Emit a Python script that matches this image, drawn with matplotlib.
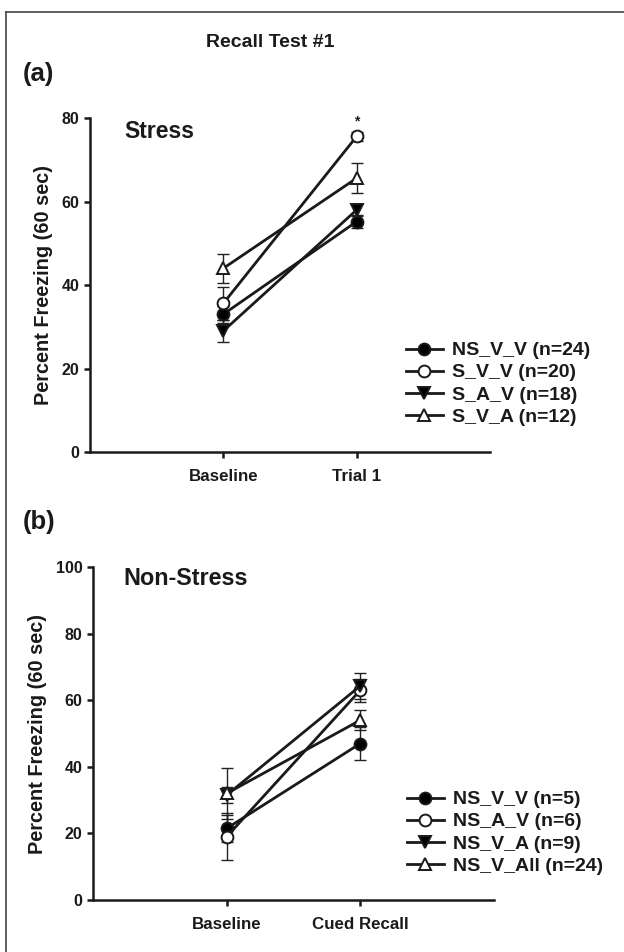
import matplotlib
matplotlib.use("Agg")
import matplotlib.pyplot as plt
from matplotlib.lines import Line2D

plt.rcParams['font.family'] = ['Liberation Sans', 'DejaVu Sans']
plt.rcParams['font.weight'] = 'bold'

# ---- data panel (a) ----
cats_a = ["Baseline", "Trial 1"]
labels_a = ["NS_V_V (n=24)", "S_V_V (n=20)", "S_A_V (n=18)", "S_V_A (n=12)"]
nsvv_a = [33.0, 55.2]
nsvv_a_err = [2.0, 1.5]
svv_a = [35.6, 75.6]
svv_a_err = [4.0, 1.0]
sav_a = [29.0, 58.0]
sav_a_err = [2.6, 1.5]
sva_a = [44.0, 65.6]
sva_a_err = [3.5, 3.6]
yticks_a = [0, 20, 40, 60, 80]

# ---- data panel (b) ----
cats_b = ["Baseline", "Cued Recall"]
labels_b = ["NS_V_V (n=5)", "NS_A_V (n=6)", "NS_V_A (n=9)", "NS_V_All (n=24)"]
nsvv_b = [21.5, 47.0]
nsvv_b_err = [4.0, 5.0]
nsav_b = [19.0, 63.0]
nsav_b_err = [7.0, 3.5]
nsva_b = [31.5, 64.3]
nsva_b_err = [2.5, 4.0]
nsvall_b = [32.0, 54.0]
nsvall_b_err = [7.6, 3.0]
yticks_b = [0, 20, 40, 60, 80, 100]

styles = [
    dict(marker='o', mfc='black'),
    dict(marker='o', mfc='white'),
    dict(marker='v', mfc='black'),
    dict(marker='^', mfc='white'),
]
INK = '#1a1a1a'

fig = plt.figure(figsize=(6.24, 9.52), dpi=100)

def panel(rect, cats, series, errs, labels, yticks, leg_anchor):
    ax = fig.add_axes(rect)
    xs = [1, 2]
    handles = []
    for vals, e, st, lab in zip(series, errs, styles, labels):
        ax.errorbar(xs, vals, yerr=e, fmt='none', ecolor='#222222', elinewidth=1.0,
                    capsize=4, capthick=1.0, zorder=2)
        h, = ax.plot(xs, vals, color=INK, lw=2.0, marker=st['marker'],
                     mfc=st['mfc'], mec=INK, mew=1.4, ms=8.5, zorder=3, label=lab)
        handles.append(h)
    ax.set_xlim(0, 3)
    ax.set_ylim(0, yticks[-1])
    ax.set_xticks(xs)
    ax.set_xticklabels(cats, fontsize=12.2, fontweight='bold', color=INK)
    ax.set_yticks(yticks)
    ax.set_yticklabels([str(t) for t in yticks], fontsize=11.5, fontweight='bold', color=INK)
    for s in ['top', 'right']:
        ax.spines[s].set_visible(False)
    for s in ['left', 'bottom']:
        ax.spines[s].set_linewidth(1.8)
        ax.spines[s].set_color(INK)
    ax.tick_params(axis='both', width=1.8, length=4, color=INK)
    ax.tick_params(axis='x', pad=8)
    ax.set_ylabel("Percent Freezing (60 sec)", fontsize=14.3, fontweight='bold', color=INK, labelpad=6)
    leg = ax.legend(handles=handles, loc='upper left', bbox_to_anchor=leg_anchor,
                    frameon=False, fontsize=14, handlelength=1.9, handletextpad=0.45,
                    labelspacing=0.23, borderaxespad=0, borderpad=0)
    for t in leg.get_texts():
        t.set_fontweight('bold')
        t.set_color(INK)
    return ax

ax_a = panel([0.1442, 0.5252, 0.641, 0.3508], cats_a,
             [nsvv_a, svv_a, sav_a, sva_a], [nsvv_a_err, svv_a_err, sav_a_err, sva_a_err],
             labels_a, yticks_a, (0.79, 0.33))
ax_a.text(0.085, 0.96, "Stress", transform=ax_a.transAxes, fontsize=16.5, fontweight='bold',
          va='center', ha='left', color=INK)
ax_a.text(2, svv_a[1] + svv_a_err[1] + 1.0, "*", ha='center', va='bottom', fontsize=10, color=INK)

ax_b = panel([0.149, 0.0546, 0.6426, 0.3498], cats_b,
             [nsvv_b, nsav_b, nsva_b, nsvall_b], [nsvv_b_err, nsav_b_err, nsva_b_err, nsvall_b_err],
             labels_b, yticks_b, (0.783, 0.328))
ax_b.text(0.077, 0.965, "Non-Stress", transform=ax_b.transAxes, fontsize=16.8, fontweight='bold',
          va='center', ha='left', color=INK)

fig.text(0.433, 0.955, "Recall Test #1", ha='center', va='center', fontsize=14, fontweight='bold', color=INK)
fig.text(0.036, 0.922, "(a)", ha='left', va='center', fontsize=18.5, fontweight='bold', color=INK)
fig.text(0.036, 0.452, "(b)", ha='left', va='center', fontsize=18.5, fontweight='bold', color=INK)

# frame lines (left and top)
fig.add_artist(Line2D([0.0096, 0.0096], [0.0, 0.9874], color='#444444', lw=1.2, transform=fig.transFigure))
fig.add_artist(Line2D([0.0096, 1.0], [0.9874, 0.9874], color='#444444', lw=1.2, transform=fig.transFigure))

fig.savefig("out.png", dpi=100)
